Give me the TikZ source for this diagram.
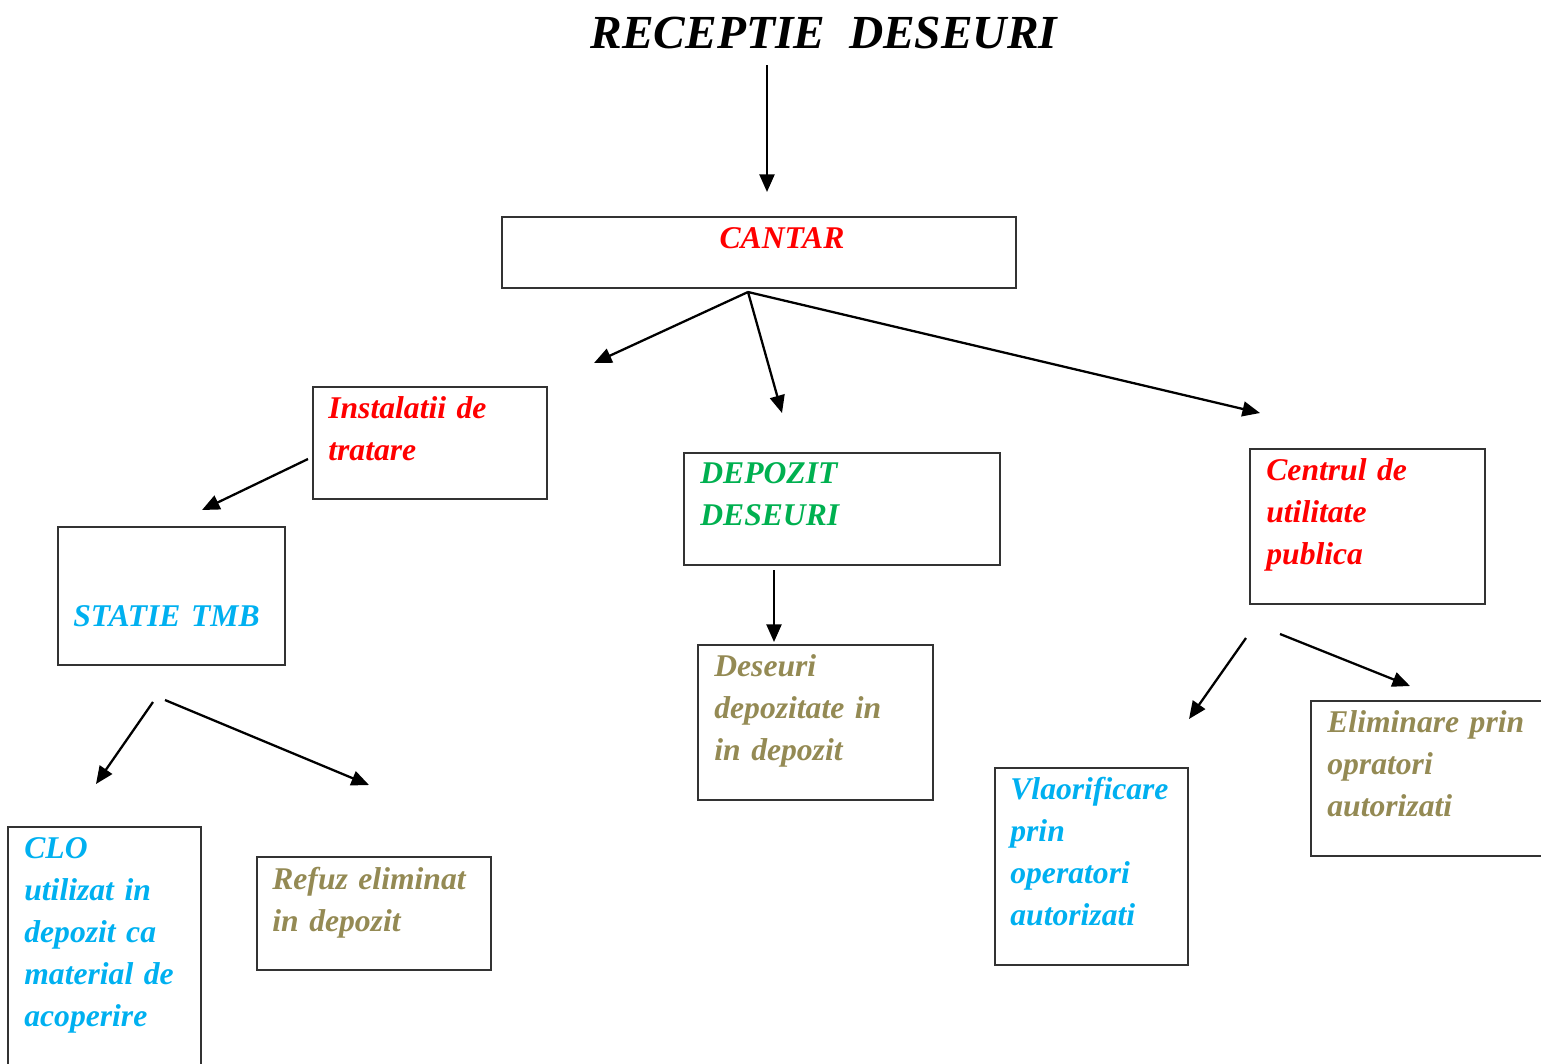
\documentclass[tikz,border=0pt]{standalone}
\usepackage{fontspec}
\setmainfont{Liberation Serif}
\usepackage{tikz}
\usetikzlibrary{arrows.meta,positioning,fit}
\definecolor{wred}{RGB}{255,0,0}
\definecolor{wgreen}{RGB}{0,176,80}
\definecolor{wcyan}{RGB}{0,176,240}
\definecolor{wolive}{RGB}{148,138,84}
\tikzset{
    box/.style={draw=black!80,line width=0.8pt,inner sep=0pt},
    lbl/.style={anchor=base west,inner sep=0pt,text width=6cm,align=left,
        font=\fontsize{18}{24}\selectfont\bfseries\itshape,text=#1},
    lbl/.default=black,
    arr/.style={-{Triangle[length=10pt,width=8.5pt]},line width=1.3pt},
}

\begin{document}
\begin{tikzpicture}[x=0.02cm,y=-0.02cm]
        \useasboundingbox (0,0) rectangle (1541,1063);
        \clip (0,0) rectangle (1541,1063);
        % title
        \node[anchor=base,inner sep=0pt,font=\fontsize{27}{32}\selectfont\bfseries\itshape]
            (title) at (824,48) {RECEPTIE\ \ DESEURI};
        % boxes
        \node[box, fit={(502,217) (1016,288)}] (cantar) {};
        \node[box, fit={(313,387) (547,499)}] (instal) {};
        \node[box, fit={(684,453) (1000,565)}] (depozit) {};
        \node[box, fit={(1250,449) (1485,604)}] (centrul) {};
        \node[box, fit={(58,527) (285,665)}] (tmb) {};
        \node[box, fit={(698,645) (933,800)}] (deseuri) {};
        \node[box, fit={(8,827) (201,1080)}] (clo) {};
        \node[box, fit={(257,857) (491,970)}] (refuz) {};
        \node[box, fit={(995,768) (1188,965)}] (valor) {};
        \node[box, fit={(1311,701) (1560,856)}] (elim) {};
        % texts
        \node[lbl=wred, anchor=base, text width=, align=center] (tcantar) at (782,248) {CANTAR};
        \node[lbl=wred] (tinstal) at (328,418) {Instalatii de\\tratare};
        \node[lbl=wgreen] (tdepozit) at (700,483) {DEPOZIT\\DESEURI};
        \node[lbl=wred] (tcentrul) at (1266,480) {Centrul de\\utilitate\\publica};
        \node[lbl=wcyan] (ttmb) at (73,626) {STATIE TMB};
        \node[lbl=wolive] (tdeseuri) at (714,676) {Deseuri\\depozitate in\\in depozit};
        \node[lbl=wcyan] (tclo) at (24,858) {CLO\\utilizat in\\depozit ca\\material de\\acoperire};
        \node[lbl=wolive] (trefuz) at (272,889) {Refuz eliminat\\in depozit};
        \node[lbl=wcyan] (tvalor) at (1010,799) {Vlaorificare\\prin\\operatori\\autorizati};
        \node[lbl=wolive] (telim) at (1327,732) {Eliminare prin\\opratori\\autorizati};
        % arrow ends
        \coordinate (a0) at (767,65);
        \coordinate (a1) at (767,192);
        \coordinate (b0) at (748,292);
        \coordinate (b1) at (594,363);
        \coordinate (b2) at (782,413);
        \coordinate (b3) at (1260,413);
        \coordinate (c0) at (308,459);
        \coordinate (c1) at (202,510);
        \coordinate (d0) at (774,570);
        \coordinate (d1) at (774,642);
        \coordinate (e0) at (153,702);
        \coordinate (e1) at (96,784);
        \coordinate (f0) at (165,700);
        \coordinate (f1) at (369,785);
        \coordinate (g0) at (1246,638);
        \coordinate (g1) at (1189,719);
        \coordinate (h0) at (1280,634);
        \coordinate (h1) at (1410,686);
        % arrows
        \draw[arr] (a0) -- (a1);
        \foreach \t in {b1,b2,b3}
            \draw[arr] (b0) -- (\t);
        \draw[arr] (c0) -- (c1);
        \draw[arr] (d0) -- (d1);
        \draw[arr] (e0) -- (e1);
        \draw[arr] (f0) -- (f1);
        \draw[arr] (g0) -- (g1);
        \draw[arr] (h0) -- (h1);
    \end{tikzpicture}
\end{document}
